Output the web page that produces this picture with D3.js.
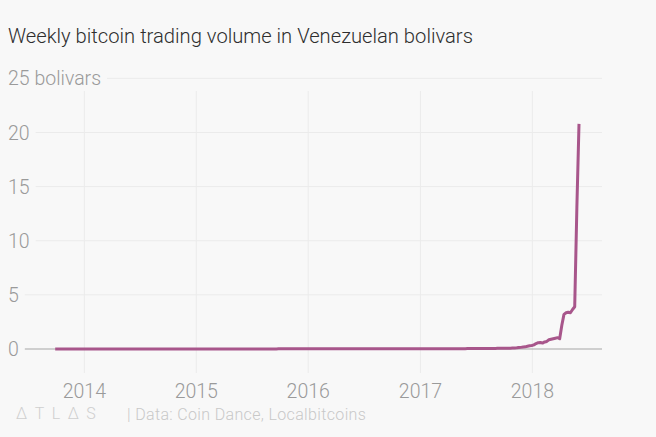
<!DOCTYPE html>
<html>
<head>
<meta charset="utf-8">
<script src="https://cdn.jsdelivr.net/npm/d3@7"></script>
<style>
  html, body { margin: 0; padding: 0; background: #f8f8f8; }
  svg { display: block; }
  text { font-family: Roboto, "Noto Sans", sans-serif; }
</style>
</head>
<body>
<svg id="chart" width="656" height="437"></svg>
<script>
// ---- data ----
const title = "Weekly bitcoin trading volume in Venezuelan bolivars";
const source = "| Data: Coin Dance, Localbitcoins";
const firstWeek = "2013-09-28"; // weekly observations, one per Saturday
// 2013-09-28 .. 2013-12-28 (14 weeks)
const vol2013 = [0,0,0,0,0,0,0,0,0,0,0,0,0,0];
// 2014 (52 weeks)
const vol2014 = [0,0,0,0,0,0,0,0,0,0,0,0,0,0,0,0,0,0,0,0,0,0,0,0,0,0,
                 0.001,0.001,0.001,0.001,0.001,0.001,0.001,0.001,0.001,0.001,0.001,0.001,0.001,0.001,0.001,0.001,0.002,0.002,0.002,0.002,0.002,0.002,0.002,0.002,0.002,0.002];
// 2015 (52 weeks)
const vol2015 = [0.003,0.003,0.003,0.003,0.004,0.004,0.004,0.004,0.005,0.005,0.005,0.005,0.006,0.006,0.006,0.006,0.007,0.007,0.007,0.007,0.008,0.008,0.008,0.008,0.009,0.009,
                 0.009,0.009,0.01,0.01,0.01,0.01,0.01,0.01,0.011,0.011,0.011,0.011,0.012,0.012,0.012,0.012,0.012,0.013,0.013,0.013,0.013,0.013,0.014,0.014,0.014,0.014];
// 2016 (53 weeks)
const vol2016 = [0.014,0.014,0.015,0.015,0.015,0.015,0.015,0.016,0.016,0.016,0.016,0.016,0.017,0.017,0.017,0.017,0.017,0.018,0.018,0.018,0.018,0.018,0.019,0.019,0.019,0.019,
                 0.019,0.02,0.02,0.02,0.02,0.02,0.021,0.021,0.021,0.021,0.021,0.022,0.022,0.022,0.022,0.022,0.023,0.023,0.023,0.023,0.023,0.024,0.024,0.024,0.024,0.024,0.025];
// 2017 (52 weeks)
const vol2017 = [0.025,0.025,0.026,0.026,0.026,0.027,0.027,0.027,0.028,0.028,0.028,0.029,0.029,0.03,0.03,0.031,0.031,0.032,0.032,0.033,0.034,0.035,0.036,0.037,0.038,0.039,
                 0.04,0.041,0.042,0.044,0.046,0.048,0.05,0.052,0.055,0.058,0.06,0.063,0.066,0.07,0.075,0.08,0.09,0.1,0.11,0.13,0.15,0.18,0.2,0.25,0.3,0.33];
// 2018-01-06 .. 2018-06-02 (22 weeks)
const vol2018 = [0.38,0.5,0.58,0.6,0.55,0.65,0.7,0.85,0.9,0.95,1.0,1.05,0.95,2.2,3.2,3.35,3.4,3.35,3.65,3.9,13,20.8];

const xTickYears = [2014, 2015, 2016, 2017, 2018];
const yTicks = [0, 5, 10, 15, 20, 25];
const yTopLabel = "25 bolivars";
const xDomain = ["2013-06-15", "2018-08-16"];

// ---- build ----
const values = [].concat(vol2013, vol2014, vol2015, vol2016, vol2017, vol2018);
const parse = d3.utcParse("%Y-%m-%d");
const start = parse(firstWeek);
const data = values.map((v, i) => ({ date: d3.utcDay.offset(start, 7 * i), value: v }));

const svg = d3.select("#chart");
svg.append("rect").attr("width", 656).attr("height", 437).attr("fill", "#f8f8f8");

const x = d3.scaleUtc().domain(xDomain.map(parse)).range([23, 602]);
const y = d3.scaleLinear().domain([0, 25]).range([349, 78.4]);

// vertical gridlines
const xTickDates = xTickYears.map(yr => new Date(Date.UTC(yr, 0, 1)));
svg.append("g").selectAll("line").data(xTickDates).join("line")
  .attr("x1", d => x(d)).attr("x2", d => x(d))
  .attr("y1", 91).attr("y2", 373)
  .attr("stroke", "#ebebeb").attr("stroke-width", 1);

// y labels and gridlines
const yg = svg.append("g");
yTicks.forEach(t => {
  const lbl = yg.append("text")
    .attr("x", 8).attr("y", y(t)).attr("dy", "0.36em")
    .attr("font-size", 19.5).attr("font-weight", 300).attr("fill", "#9a9a9a")
    .text(t === 25 ? yTopLabel : String(t));
  const w = lbl.node().getComputedTextLength();
  yg.insert("line", "text")
    .attr("x1", 8 + w + 6).attr("x2", 602)
    .attr("y1", y(t)).attr("y2", y(t))
    .attr("stroke", t === 0 ? "#a6a6a6" : "#ebebeb")
    .attr("stroke-width", 1);
});

// x labels
svg.append("g").selectAll("text").data(xTickDates).join("text")
  .attr("x", d => x(d)).attr("y", 398)
  .attr("text-anchor", "middle")
  .attr("font-size", 19.5).attr("font-weight", 300).attr("fill", "#9a9a9a")
  .text(d => d3.utcFormat("%Y")(d));

// line
const line = d3.line().x(d => x(d.date)).y(d => y(d.value)).curve(d3.curveLinear);
svg.append("path").datum(data)
  .attr("d", line)
  .attr("fill", "none")
  .attr("stroke", "#a8568b")
  .attr("stroke-width", 3)
  .attr("stroke-linejoin", "round")
  .attr("stroke-linecap", "butt");

// title
svg.append("text")
  .attr("x", 8).attr("y", 43)
  .attr("font-size", 20.2).attr("font-weight", 300).attr("fill", "#2e2e2e")
  .text(title);

// footer
svg.append("text")
  .attr("x", 16).attr("y", 419)
  .attr("font-size", 16).attr("font-weight", 300).attr("fill", "#cfcfcf")
  .attr("letter-spacing", "7.5px")
  .text("ΔTLΔS");
svg.append("text")
  .attr("x", 127).attr("y", 420)
  .attr("font-size", 16).attr("font-weight", 300).attr("fill", "#c8c8c8")
  .attr("letter-spacing", "0.35px")
  .text(source);
</script>
</body>
</html>
